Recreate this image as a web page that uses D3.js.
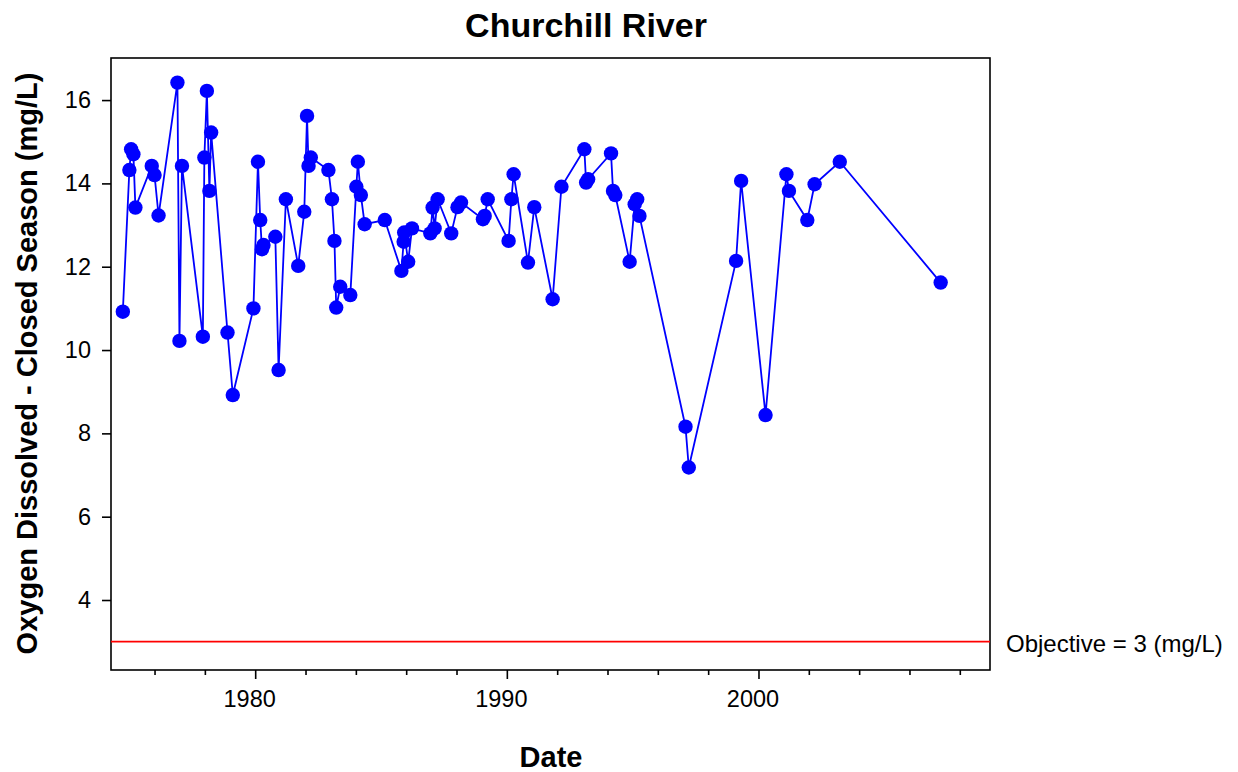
<!DOCTYPE html>
<html><head><meta charset="utf-8">
<script src="https://cdn.jsdelivr.net/npm/d3@7"></script>
<style>body{margin:0;background:#fff;font-family:"Liberation Sans",Arial,sans-serif;}</style>
</head><body><svg id="c" width="1238" height="772"></svg>
<script>
const years = [1974.74,1975.00,1975.07,1975.16,1975.24,1975.89,1976.00,1976.16,1976.91,1976.99,1977.09,
1977.92,1977.98,1978.08,1978.18,1978.25,1978.90,1979.11,1979.93,1980.11,1980.20,1980.27,1980.33,1980.80,1980.93,
1981.22,1981.71,1981.95,1982.06,1982.12,1982.21,1982.91,1983.05,1983.15,1983.22,1983.38,1983.78,1984.02,1984.08,
1984.20,1984.35,1985.15,1985.81,1985.90,1985.92,1986.08,1986.23,1986.96,1987.05,1987.13,1987.25,1987.79,1988.04,
1988.18,1989.05,1989.12,1989.24,1990.07,1990.18,1990.27,1990.84,1991.09,1991.82,1992.17,1993.08,1993.15,1993.23,
1994.14,1994.22,1994.31,1994.88,1995.08,1995.18,1995.27,1997.10,1997.23,1999.11,1999.31,2000.28,2001.11,2001.21,
2001.94,2002.23,2003.23,2007.24];
const oxygen = [10.92,14.32,14.82,14.70,13.42,14.42,14.20,13.23,16.42,10.22,14.42,
10.32,14.62,16.22,13.82,15.22,10.42,8.92,11.00,14.52,13.12,12.42,12.52,12.72,9.52,
13.62,12.02,13.32,15.62,14.42,14.62,14.32,13.62,12.62,11.02,11.52,11.32,13.92,14.52,
13.72,13.02,13.12,11.90,12.60,12.82,12.12,12.92,12.80,13.42,12.92,13.62,12.80,13.43,
13.54,13.14,13.22,13.62,12.62,13.62,14.22,12.10,13.43,11.22,13.92,14.82,14.02,14.10,
14.72,13.82,13.72,12.12,13.50,13.62,13.22,8.16,7.18,12.14,14.06,8.44,14.22,13.82,
13.12,13.98,14.52,11.62];
const yTicks = [4,6,8,10,12,14,16];
const xMajor = [1980,1990,2000];
const xMinor = [1976,1978,1982,1984,1986,1988,1992,1994,1996,1998,2002,2004,2006,2008];
const objective = 3;

const L=111,R=990,T=58,B=670;
const FONT="Liberation Sans, Arial, sans-serif";
const svg=d3.select("#c");
const x=d3.scaleLinear().domain([1974.27,2009.2]).range([L,R]);
const y=d3.scaleLinear().domain([2.32,17.01]).range([B,T]);

svg.append("rect").attr("x",L).attr("y",T).attr("width",R-L).attr("height",B-T)
  .attr("fill","none").attr("stroke","#000").attr("stroke-width",1.6);

// y axis
const ya=svg.append("g").attr("transform",`translate(${L},0)`)
  .call(d3.axisLeft(y).tickValues(yTicks).tickSize(9).tickPadding(11).tickFormat(d3.format("d")));
ya.select(".domain").remove();
ya.selectAll("line").attr("stroke","#000").attr("stroke-width",1.6);
ya.selectAll("text").attr("font-size",23.5).attr("font-family",FONT).attr("fill","#000");

// x axis major
const xa=svg.append("g").attr("transform",`translate(0,${B})`)
  .call(d3.axisBottom(x).tickValues(xMajor).tickSize(9).tickPadding(11).tickFormat(d3.format("d")));
xa.select(".domain").remove();
xa.selectAll("line").attr("stroke","#000").attr("stroke-width",1.6);
xa.selectAll("text").attr("font-size",23.5).attr("font-family",FONT).attr("fill","#000").attr("dx",-6);
const xm=svg.append("g").attr("transform",`translate(0,${B})`)
  .call(d3.axisBottom(x).tickValues(xMinor).tickSize(5).tickFormat(""));
xm.select(".domain").remove();
xm.selectAll("line").attr("stroke","#000").attr("stroke-width",1.6);

// objective line
svg.append("line").attr("x1",L).attr("x2",R).attr("y1",y(objective)).attr("y2",y(objective))
  .attr("stroke","#ff0000").attr("stroke-width",1.8);
svg.append("text").attr("x",1006).attr("y",y(objective)+10).attr("font-size",24)
  .attr("font-family",FONT).attr("fill","#000").text("Objective = 3 (mg/L)");

const data=years.map((d,i)=>({x:d,y:oxygen[i]}));
svg.append("path").datum(data).attr("fill","none").attr("stroke","#0000ff").attr("stroke-width",1.8)
  .attr("d",d3.line().x(d=>x(d.x)).y(d=>y(d.y)));
svg.selectAll("circle.p").data(data).enter().append("circle").attr("class","p")
  .attr("cx",d=>x(d.x)).attr("cy",d=>y(d.y)).attr("r",7.2).attr("fill","#0000ff");

svg.append("text").attr("x",586).attr("y",37).attr("text-anchor","middle").attr("font-size",34)
  .attr("font-family",FONT).attr("font-weight","bold").text("Churchill River");
svg.append("text").attr("x",551).attr("y",767).attr("text-anchor","middle").attr("font-size",29)
  .attr("font-family",FONT).attr("font-weight","bold").text("Date");
svg.append("text").attr("transform",`translate(37,${(72+655)/2}) rotate(-90)`).attr("text-anchor","middle")
  .attr("font-size",29).attr("font-family",FONT).attr("font-weight","bold").text("Oxygen Dissolved - Closed Season (mg/L)");
</script></body></html>
